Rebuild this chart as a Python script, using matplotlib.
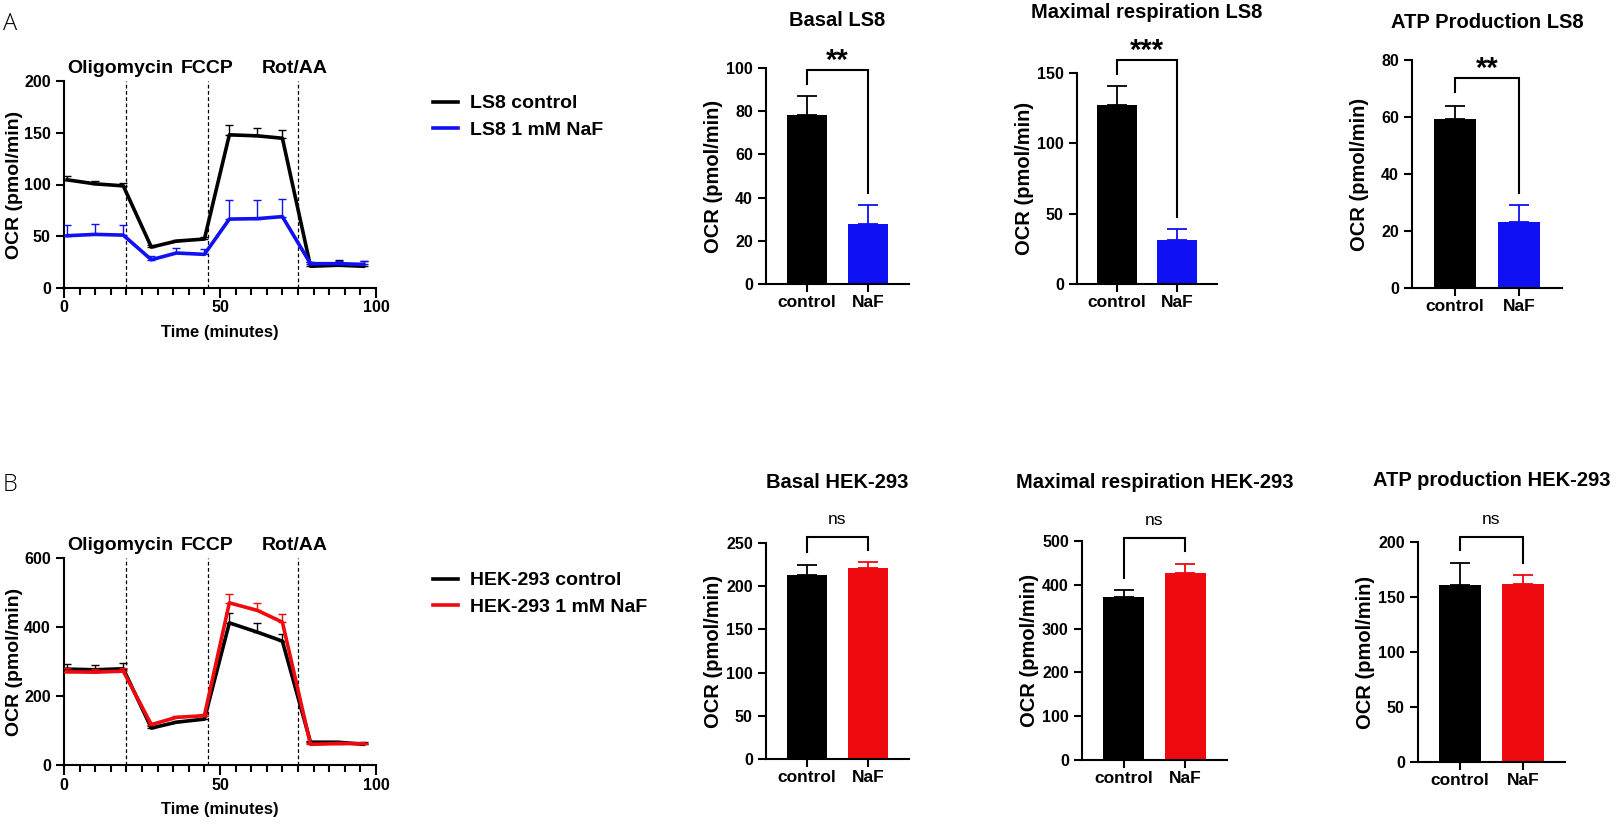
import matplotlib
matplotlib.use('Agg')
import matplotlib.pyplot as plt
import numpy as np

plt.rcParams['font.family'] = ['Liberation Sans', 'DejaVu Sans']
plt.rcParams['font.weight'] = 'bold'
plt.rcParams['axes.labelweight'] = 'bold'
plt.rcParams['axes.linewidth'] = 1.5

W, H = 1618, 825

# time course (minutes)
time = [1, 10, 19, 28, 36, 45, 53, 62, 70, 79, 88, 96]
injections = [20, 46, 75]
injection_names = ['Oligomycin', 'FCCP', 'Rot/AA']
injection_label_x = [18, 46, 74]

# LS8 seahorse trace
ls8_ctrl = [104.5, 100.6, 98.7, 39.5, 45.3, 47.3, 148, 147, 144.7, 21, 22, 21]
ls8_ctrl_err = [3.5, 2.5, 3, 2, 1.5, 2, 9.5, 8, 7.5, 4, 5, 5]
ls8_naf = [50.5, 51.8, 51.1, 27.3, 33.8, 32.5, 66.6, 67, 69, 23.5, 23.5, 22.8]
ls8_naf_err = [10, 10, 10, 4, 5, 5, 18.5, 18, 17, 2, 3, 3]

# HEK-293 seahorse trace
hek_ctrl = [278, 276, 279, 107, 124, 133, 412, 385, 359, 66, 66, 60]
hek_ctrl_err = [16, 14, 16, 5, 4, 10, 29, 26, 22, 4, 2, 6]
hek_naf = [270, 269, 272, 117, 138, 143, 470, 448, 414, 60, 62, 62]
hek_naf_err = [10, 8, 8, 5, 3, 6, 25, 22, 23, 4, 4, 2]

groups = ['control', 'NaF']

# bar panels: title, means, sem, y max, y step, significance
bar_titles_a = ['Basal LS8', 'Maximal respiration LS8', 'ATP Production LS8']
bar_means_a = [[78.4, 28.0], [127.0, 31.3], [59.2, 23.2]]
bar_err_a = [[8.5, 8.6], [13.5, 8.0], [4.7, 6.0]]
bar_ymax_a = [100, 150, 80]
bar_ystep_a = [20, 50, 20]
bar_sig_a = ['**', '***', '**']
bracket_a = [[92.7, 98.9, 42.0], [149.3, 159.0, 47.6], [68.6, 73.6, 33.5]]

bar_titles_b = ['Basal HEK-293', 'Maximal respiration HEK-293', 'ATP production HEK-293']
bar_means_b = [[213.0, 221.5], [372.0, 427.0], [161.0, 161.6]]
bar_err_b = [[11.6, 6.2], [15.5, 21.0], [20.0, 8.8]]
bar_ymax_b = [250, 500, 200]
bar_ystep_b = [50, 100, 50]
bar_sig_b = ['ns', 'ns', 'ns']
bracket_b = [[239.6, 257.0, 242.0], [415.7, 507.6, 477.0], [193.0, 205.0, 181.0]]

BLUE = '#1010f5'
RED = '#ee0a0e'

fig = plt.figure(figsize=(W / 100, H / 100), dpi=100)


def px_axes(l, r, t, b):
    return fig.add_axes([l / W, 1 - b / H, (r - l) / W, (b - t) / H])


def style_axes(ax):
    for s in ['top', 'right']:
        ax.spines[s].set_visible(False)
    ax.tick_params(width=1.5, length=6, labelsize=11.5)


def trace_panel(box, ctrl, ctrl_err, naf, naf_err, color, ymax, ystep, labels):
    l, r, t, b = box
    ax = px_axes(l, r, t, b)
    style_axes(ax)
    zeros = np.zeros(len(time))
    ax.errorbar(time, naf, yerr=[zeros, naf_err], color=color, lw=2.6,
                elinewidth=1, capsize=3, capthick=1, zorder=3)
    ax.errorbar(time, ctrl, yerr=[zeros, ctrl_err], color='black', lw=2.6,
                elinewidth=1, capsize=3, capthick=1, zorder=2)
    for x in injections:
        ax.axvline(x, color='black', lw=0.9, ls=(0, (3, 2)), zorder=1)
    for name, x in zip(injection_names, injection_label_x):
        ax.text(x, ymax * 1.06, name, ha='center', va='center', fontsize=14)
    ax.set_xlim(0, 100)
    ax.set_ylim(0, ymax)
    ax.set_xticks([0, 50, 100])
    ax.set_xticks(np.arange(0, 101, 5), minor=True)
    ax.set_yticks(np.arange(0, ymax + 1, ystep))
    ax.tick_params(axis='x', which='major', length=7, pad=2)
    ax.tick_params(axis='x', which='minor', length=5, width=1.5)
    ax.set_ylabel('OCR (pmol/min)', fontsize=14)
    ax.yaxis.set_label_coords(-41 / (r - l), 0.5)
    ax.set_xlabel('Time (minutes)', fontsize=12)
    ax.xaxis.set_label_coords(0.5, -37 / (b - t))
    h1, = ax.plot([], [], color='black', lw=2.6)
    h2, = ax.plot([], [], color=color, lw=2.6)
    fig.legend([h1, h2], labels, loc='upper left', frameon=False, fontsize=14,
               bbox_to_anchor=(423 / W, 1 - (t + 4) / H), borderpad=0,
               handlelength=1.3, handletextpad=0.6, labelspacing=0.45)
    return ax


def bar_panel(box, title, means, err, color, ymax, ystep, sig, bracket, title_y):
    l, r, t, b = box
    ax = px_axes(l, r, t, b)
    style_axes(ax)
    x = np.arange(len(groups))
    colors = ['black', color]
    for i in range(len(groups)):
        ax.bar(x[i], means[i], width=0.66, color=colors[i], zorder=2)
        ax.errorbar(x[i], means[i], yerr=[[0], [err[i]]], color=colors[i],
                    elinewidth=1.3, capsize=7, capthick=1.3, zorder=1)
    ax.set_xlim(-0.67, 1.67)
    ax.set_ylim(0, ymax)
    ax.set_xticks(x)
    ax.set_xticklabels(groups, fontsize=12.5)
    ax.set_yticks(np.arange(0, ymax + 1, ystep))
    ax.tick_params(axis='x', pad=2)
    ax.set_ylabel('OCR (pmol/min)', fontsize=14.5)
    ax.yaxis.set_label_coords(-43 / (r - l), 0.5)
    yl, yt, yr = bracket
    ax.plot([0, 0, 1, 1], [yl, yt, yt, yr], color='black', lw=1.5,
            clip_on=False, solid_joinstyle='miter')
    if sig == 'ns':
        ax.annotate(sig, xy=(0.5, yt), xytext=(0, 7), textcoords='offset points',
                    ha='center', va='bottom', fontsize=12.5, fontweight='normal',
                    annotation_clip=False)
    else:
        ax.annotate(sig, xy=(0.5, yt), xytext=(0, 1), textcoords='offset points',
                    ha='center', va='baseline', fontsize=21,
                    annotation_clip=False)
    fig.text((l + r) / 2 / W, 1 - title_y / H, title, ha='center', va='center',
             fontsize=14.5)
    return ax


trace_panel((64, 376, 81, 288), ls8_ctrl, ls8_ctrl_err, ls8_naf, ls8_naf_err,
            BLUE, 200, 50, ['LS8 control', 'LS8 1 mM NaF'])
trace_panel((64, 376, 558, 765), hek_ctrl, hek_ctrl_err, hek_naf, hek_naf_err,
            RED, 600, 200, ['HEK-293 control', 'HEK-293 1 mM NaF'])

boxes_a = [(766, 909, 68, 284), (1077, 1217, 73, 284), (1412, 1562, 60, 288)]
title_y_a = [20, 13, 22]
for i in range(3):
    bar_panel(boxes_a[i], bar_titles_a[i], bar_means_a[i], bar_err_a[i], BLUE,
              bar_ymax_a[i], bar_ystep_a[i], bar_sig_a[i], bracket_a[i], title_y_a[i])

boxes_b = [(766, 909, 543, 759), (1082, 1227, 541, 760), (1418, 1565, 542, 762)]
title_y_b = [482, 482, 480]
for i in range(3):
    bar_panel(boxes_b[i], bar_titles_b[i], bar_means_b[i], bar_err_b[i], RED,
              bar_ymax_b[i], bar_ystep_b[i], bar_sig_b[i], bracket_b[i], title_y_b[i])

fig.text(3 / W, 1 - 24 / H, 'A', fontsize=17, fontweight='light',
         family=['Open Sans', 'DejaVu Sans'], ha='left', va='center')
fig.text(3 / W, 1 - 485 / H, 'B', fontsize=17, fontweight='light',
         family=['Open Sans', 'DejaVu Sans'], ha='left', va='center')

fig.savefig('out.png', dpi=100)
